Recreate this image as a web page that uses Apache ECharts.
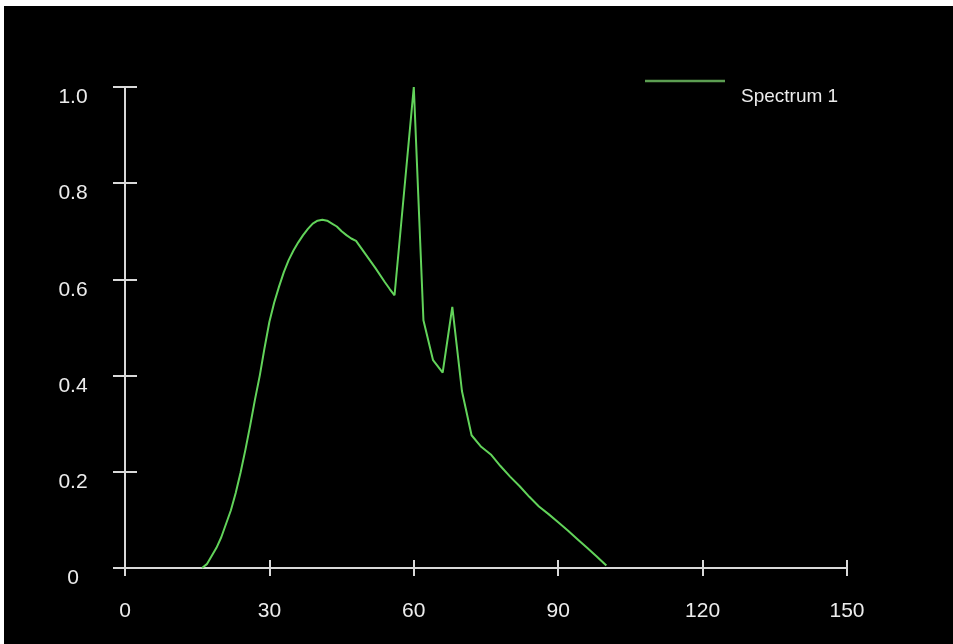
<!DOCTYPE html>
<html>
<head>
<meta charset="utf-8">
<script src="https://cdn.jsdelivr.net/npm/echarts@6/dist/echarts.min.js"></script>
<style>
  html, body { margin: 0; padding: 0; background: #ffffff; width: 953px; height: 644px; overflow: hidden; }
  #chart { position: absolute; left: 4px; top: 6px; width: 949px; height: 638px; background: #000000; }
</style>
</head>
<body>
<div id="chart"></div>
<script>
// ---- data ----
var seriesName = 'Spectrum 1';
var xValues = [16, 17, 18, 19, 20, 21, 22, 23, 24, 25, 26, 27, 28, 29, 30, 31, 32, 33, 34, 35,
               36, 37, 38, 39, 40, 41, 42, 43, 44, 45, 46, 47, 48, 50, 52, 54, 55, 56, 60, 62,
               64, 66, 68, 70, 72, 74, 76, 78, 80, 82, 84, 86, 88, 90, 92, 94, 96, 98, 100];
var yValues = [0.0, 0.008, 0.025, 0.042, 0.064, 0.092, 0.12, 0.156, 0.198, 0.245, 0.296, 0.35, 0.40, 0.458, 0.512, 0.552, 0.585, 0.615, 0.64, 0.66,
               0.677, 0.692, 0.705, 0.716, 0.722, 0.724, 0.722, 0.716, 0.71, 0.70, 0.692, 0.685, 0.68, 0.652, 0.624, 0.594, 0.58, 0.567, 1.0, 0.515,
               0.432, 0.406, 0.543, 0.368, 0.276, 0.252, 0.236, 0.212, 0.19, 0.17, 0.148, 0.128, 0.112, 0.095, 0.078, 0.06, 0.042, 0.024, 0.005];
var xTickLabels = ['0', '30', '60', '90', '120', '150'];
var yTickLabels = ['0', '0.2', '0.4', '0.6', '0.8', '1.0'];

// ---- build ----
var points = xValues.map(function (x, i) { return [x, yValues[i]]; });
var fontFamily = '"Liberation Sans", Arial, sans-serif';
var axisColor = '#d9d9d9';
var labelColor = '#ececec';

function xLabel(v) { var i = Math.round(v / 30); return xTickLabels[i] !== undefined ? xTickLabels[i] : ''; }
function yLabel(v) { var i = Math.round(v / 0.2); return yTickLabels[i] !== undefined ? yTickLabels[i] : ''; }

var gridRect = { left: 121, right: 106, top: 81, bottom: 76 };

var chart = echarts.init(document.getElementById('chart'), null, { renderer: 'canvas' });
chart.setOption({
  backgroundColor: '#000000',
  animation: false,
  grid: [
    Object.assign({ containLabel: false }, gridRect),
    Object.assign({ containLabel: false }, gridRect)
  ],
  legend: {
    show: true,
    data: [seriesName],
    icon: 'rect',
    left: 636,
    top: 38,
    itemWidth: 80,
    itemHeight: 2.5,
    itemStyle: { color: '#5c9e52' },
    formatter: function (name) { return '\n' + name; },
    textStyle: {
      color: labelColor,
      fontFamily: fontFamily,
      fontSize: 19,
      lineHeight: 32,
      padding: [0, 0, 0, 11]
    }
  },
  xAxis: [
    {
      type: 'value', gridIndex: 0, min: 0, max: 150, interval: 30, position: 'bottom',
      axisLine: { show: true, onZero: false, lineStyle: { color: axisColor, width: 2 } },
      axisTick: { show: true, inside: false, length: 8, lineStyle: { color: axisColor, width: 2 } },
      axisLabel: { show: true, margin: 33, color: labelColor, fontSize: 21, fontFamily: fontFamily, formatter: xLabel },
      splitLine: { show: false }
    },
    {
      type: 'value', gridIndex: 1, min: 0, max: 150, interval: 30, position: 'bottom',
      axisLine: { show: false, onZero: false },
      axisTick: { show: true, inside: true, length: 8, lineStyle: { color: axisColor, width: 2 } },
      axisLabel: { show: false },
      splitLine: { show: false }
    }
  ],
  yAxis: [
    {
      type: 'value', gridIndex: 0, min: 0, max: 1, interval: 0.2, position: 'left',
      axisLine: { show: true, onZero: false, lineStyle: { color: axisColor, width: 2 } },
      axisTick: { show: true, inside: false, length: 12, lineStyle: { color: axisColor, width: 2 } },
      axisLabel: { show: true, margin: 52, align: 'center', verticalAlign: 'top', color: labelColor, fontSize: 21, fontFamily: fontFamily, formatter: yLabel },
      splitLine: { show: false }
    },
    {
      type: 'value', gridIndex: 1, min: 0, max: 1, interval: 0.2, position: 'left',
      axisLine: { show: false, onZero: false },
      axisTick: { show: true, inside: true, length: 12, lineStyle: { color: axisColor, width: 2 } },
      axisLabel: { show: false },
      splitLine: { show: false }
    }
  ],
  series: [
    {
      name: seriesName,
      type: 'line',
      xAxisIndex: 0,
      yAxisIndex: 0,
      data: points,
      symbol: 'none',
      showSymbol: false,
      smooth: false,
      lineStyle: { color: '#62d35a', width: 2 },
      itemStyle: { color: '#62d35a' }
    }
  ]
});
</script>
</body>
</html>
